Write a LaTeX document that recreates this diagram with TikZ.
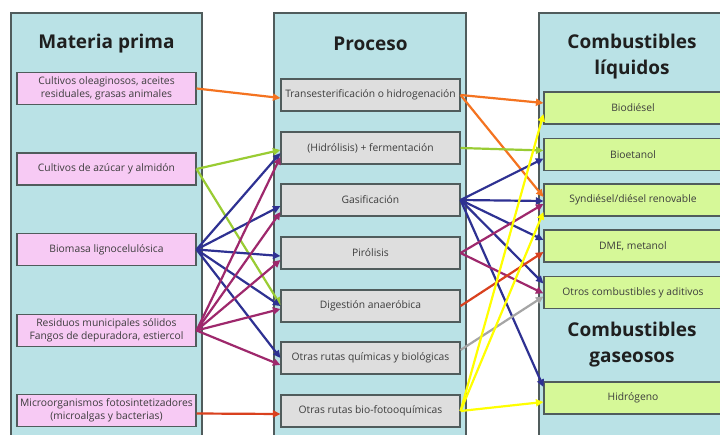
\documentclass[tikz,border=0pt]{standalone}
\usepackage{fontspec}
\setmainfont{Open Sans}
\usetikzlibrary{arrows.meta,calc}
\definecolor{panelfill}{RGB}{186,226,230}
\definecolor{panelline}{RGB}{80,92,92}
\definecolor{pinkfill}{RGB}{247,202,244}
\definecolor{grayfill}{RGB}{222,222,222}
\definecolor{greenfill}{RGB}{214,248,152}
\definecolor{corange}{RGB}{244,115,32}
\definecolor{cgreen}{RGB}{153,204,51}
\definecolor{cblue}{RGB}{46,49,146}
\definecolor{cmag}{RGB}{158,40,108}
\definecolor{cred}{RGB}{217,65,30}
\definecolor{cgray}{RGB}{165,165,165}
\definecolor{cyellow}{RGB}{255,255,0}
\definecolor{boxtext}{RGB}{60,60,60}
\begin{document}
\begin{tikzpicture}[x=1pt,y=-1pt,
  panelbox/.style={draw=panelline,fill=panelfill,line width=1.4pt},
  titletext/.style={font=\fontsize{19}{26}\selectfont\bfseries,text=black!88,align=center},
  basebox/.style={draw=panelline,line width=1.1pt,minimum width=179pt,minimum height=32pt,inner sep=0pt,align=center,font=\fontsize{10.3}{13}\selectfont,text=boxtext},
  lbox/.style={basebox,fill=pinkfill},
  pbox/.style={basebox,fill=grayfill},
  cbox/.style={basebox,fill=greenfill,minimum width=178pt},
  link/.style={line width=2.2pt,-{Triangle[length=7.5pt,width=7pt]}},
]
\useasboundingbox (0,0) rectangle (720,435);
\clip (0,0) rectangle (720,435);
\fill[white] (0,0) rectangle (720,435);
% panels
\draw[panelbox] (11,13) rectangle (202,460);
\draw[panelbox] (274,13) rectangle (466,460);
\draw[panelbox] (539,13) rectangle (740,460);
% titles
\node[titletext] (tmat) at (106.5,44) {Materia prima};
\node[titletext] (tpro) at (370.5,44) {Proceso};
\node[titletext] (tliq) at (632,56.5) {Combustibles\\líquidos};
\node[titletext] (tgas) at (632,345) {Combustibles\\gaseosos};
% left boxes
\node[lbox] (m1) at (106.5,88.5) {Cultivos oleaginosos, aceites\\residuales, grasas animales};
\node[lbox] (m2) at (106.5,169) {Cultivos de azúcar y almidón};
\node[lbox] (m3) at (106.5,249.5) {Biomasa lignocelulósica};
\node[lbox] (m4) at (106.5,330.5) {Residuos municipales sólidos\\Fangos de depuradora, estiercol};
\node[lbox] (m5) at (106.5,410.5) {Microorganismos fotosintetizadores\\(microalgas y bacterias)};
% process boxes
\node[pbox] (p1) at (370.5,95) {Transesterificación o hidrogenación};
\node[pbox] (p2) at (370.5,148) {(Hidrólisis) + fermentación};
\node[pbox] (p3) at (370.5,200) {Gasificación};
\node[pbox] (p4) at (370.5,253) {Pirólisis};
\node[pbox] (p5) at (370.5,306) {Digestión anaeróbica};
\node[pbox] (p6) at (370.5,358) {Otras rutas químicas y biológicas};
\node[pbox] (p7) at (370.5,411) {Otras rutas bio-fotooquímicas};
% fuel boxes
\node[cbox] (c1) at (633,108) {Biodiésel};
\node[cbox] (c2) at (633,154.5) {Bioetanol};
\node[cbox] (c3) at (633,200) {Syndiésel/diésel renovable};
\node[cbox] (c4) at (633,246) {DME, metanol};
\node[cbox] (c5) at (633,292.5) {Otros combustibles y aditivos};
\node[cbox] (c6) at (633,398) {Hidrógeno};
% left -> process
\draw[link,corange] (m1.east) -- ($(p1.west)+(0,3)$);
\draw[link,cgreen] (m2.east) -- ($(p2.west)+(0,2)$);
\draw[link,cgreen] (m2.east) -- ($(p5.west)+(0,-1)$);
\draw[link,cblue] (m3.east) -- ($(p2.west)+(0,5)$);
\draw[link,cblue] (m3.east) -- ($(p3.west)+(0,6)$);
\draw[link,cblue] (m3.east) -- ($(p4.west)+(0,3)$);
\draw[link,cblue] (m3.east) -- ($(p5.west)+(0,0)$);
\draw[link,cblue] (m3.east) -- ($(p6.west)+(0,0)$);
\draw[link,cmag] (m4.east) -- ($(p2.west)+(0,9)$);
\draw[link,cmag] (m4.east) -- ($(p3.west)+(0,12)$);
\draw[link,cmag] (m4.east) -- ($(p4.west)+(0,7)$);
\draw[link,cmag] (m4.east) -- ($(p5.west)+(0,3)$);
\draw[link,cmag] (m4.east) -- ($(p6.west)+(0,7)$);
\draw[link,cred] ($(m5.east)+(0,3)$) -- ($(p7.west)+(0,3)$);
% process -> fuels
\draw[link,corange] (p1.east) -- ($(c1.west)+(0,-5)$);
\draw[link,corange] (p1.east) -- ($(c3.west)+(0,-3)$);
\draw[link,cgreen] (p2.east) -- ($(c2.west)+(0,-4)$);
\draw[link,cblue] (p3.east) -- ($(c2.west)+(0,4)$);
\draw[link,cblue] (p3.east) -- ($(c3.west)+(0,1)$);
\draw[link,cblue] (p3.east) -- ($(c4.west)+(0,-6)$);
\draw[link,cblue] (p3.east) -- ($(c5.west)+(0,-9)$);
\draw[link,cblue] (p3.east) -- ($(c6.west)+(0,-11)$);
\draw[link,cmag] (p4.east) -- ($(c3.west)+(0,4)$);
\draw[link,cmag] (p4.east) -- ($(c5.west)+(0,1)$);
\draw[link,cred] (p5.east) -- ($(c4.west)+(0,6)$);
\draw[link,cgray] ($(p6.east)+(0,-8)$) -- ($(c5.west)+(0,4)$);
\draw[link,cyellow] (p7.east) -- ($(c1.west)+(0,6)$);
\draw[link,cyellow] (p7.east) -- ($(c3.west)+(0,12)$);
\draw[link,cyellow] (p7.east) -- ($(c6.west)+(0,4)$);
\end{tikzpicture}
\end{document}
